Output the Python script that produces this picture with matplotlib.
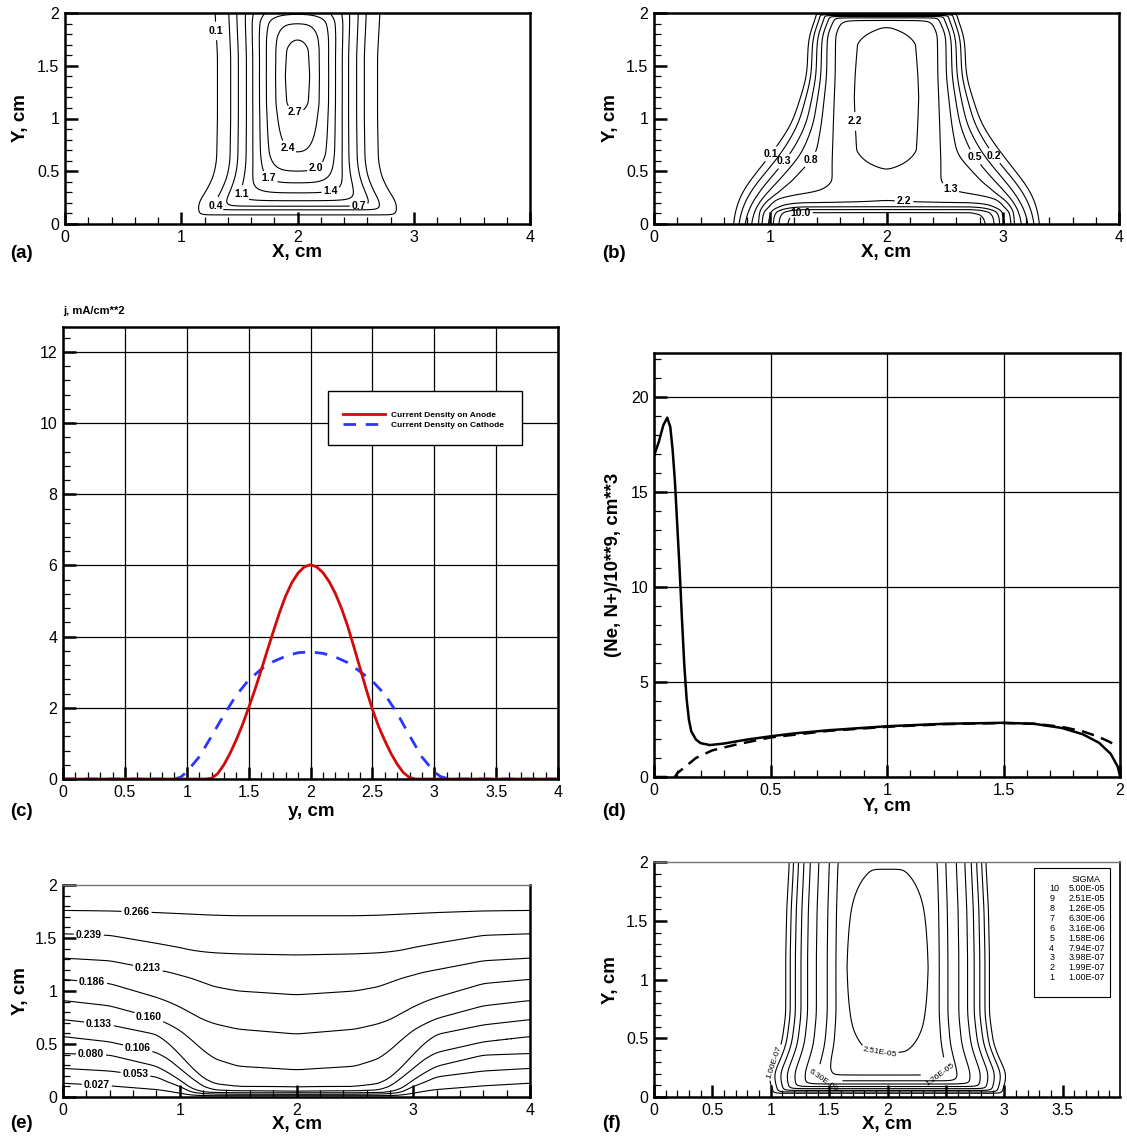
import numpy as np
import matplotlib
matplotlib.use("Agg")
import matplotlib.pyplot as plt
from matplotlib.ticker import MultipleLocator, FuncFormatter
from matplotlib.patches import Rectangle

plt.rcParams['font.family'] = ['Liberation Sans', 'DejaVu Sans']
plt.rcParams['axes.linewidth'] = 1.8

# ---------------------------------------------------------------- (a) electron density
a_levels = [0.1, 0.4, 0.7, 1.1, 1.4, 1.7, 2.0, 2.4, 2.7]
a_peak = 2.82
a_half_width = [0.675, 0.566, 0.503, 0.443, 0.385, 0.328, 0.265, 0.19, 0.12]   # cm from x = 2
a_zero_width = 0.76
a_core_width, a_core_level = 0.06, 2.79
a_base_height = 0.05
a_rise_height = [0.095, 0.136, 0.168, 0.215, 0.294, 0.389, 0.50, 0.673, 1.043]
a_crest_height = [1.15, 1.40, 1.65]
a_crest_level = [2.79, 2.82, 2.79]
a_fall_levels = [2.7, 2.4, 2.0, 1.95]
a_fall_height = [1.76, 1.905, 1.98, 2.0]
a_flare_y = [0.0, 0.1, 0.2, 0.3, 0.45, 0.6, 1.0, 1.6, 2.0]
a_flare = [1.18, 1.24, 1.25, 1.15, 1.05, 1.01, 1.0, 1.0, 1.03]

# ---------------------------------------------------------------- (b) ion density
b_levels = [0.1, 0.1668, 0.2783, 0.4642, 0.7743, 1.2915, 2.1544, 3.5938, 5.9948, 10.0]
b_col_peak = 2.5
b_lat_levels = [2.1544, 1.2915, 0.7743, 0.4642, 0.2783, 0.1668, 0.1, 0.0]
b_lat_rows = [0.0, 0.15, 0.25, 0.30, 0.40, 0.66, 0.94, 1.40, 1.80, 2.00]
b_lat_width = [
    [0.80, 1.04, 1.10, 1.16, 1.22, 1.27, 1.32, 1.40],
    [0.78, 1.02, 1.07, 1.13, 1.18, 1.24, 1.30, 1.38],
    [0.70, 0.97, 1.00, 1.06, 1.12, 1.19, 1.27, 1.35],
    [0.30, 0.55, 0.93, 1.02, 1.10, 1.18, 1.255, 1.33],
    [0.29, 0.46, 0.83, 0.93, 1.02, 1.10, 1.19, 1.27],
    [0.29, 0.46, 0.60, 0.73, 0.82, 0.90, 1.00, 1.08],
    [0.29, 0.455, 0.56, 0.625, 0.68, 0.75, 0.82, 0.89],
    [0.29, 0.443, 0.514, 0.558, 0.595, 0.638, 0.681, 0.75],
    [0.28, 0.44, 0.51, 0.55, 0.59, 0.63, 0.67, 0.74],
    [0.20, 0.36, 0.42, 0.46, 0.50, 0.54, 0.58, 0.65],
]
b_col_y = [0.0, 0.30, 0.515, 0.70, 1.20, 1.70, 1.87, 1.93, 1.955, 1.965, 1.975, 1.982, 1.99, 2.0]
b_col_v = [1.90, 1.97, 2.1544, 2.42, 2.50, 2.42, 2.1544, 1.2915, 0.7743, 0.4642, 0.2783,
           0.1668, 0.1, 0.0]
b_sheath_y = [0.0, 0.05, 0.08, 0.11, 0.135, 0.16, 0.20, 0.30, 0.40]
b_sheath_v = [12.5, 11.5, 10.2, 8.1, 4.1, 1.7, 0.25, 0.05, 0.0]
b_sheath_dx = [0.0, 0.72, 0.80, 0.88, 0.95, 1.00, 1.10]
b_sheath_w = [1.0, 1.0, 0.85, 0.55, 0.25, 0.08, 0.0]

# ---------------------------------------------------------------- (c) current density
c_anode_y = [0.0, 1.15, 1.20, 1.25, 1.30, 1.35, 1.40, 1.45, 1.50, 1.55, 1.60, 1.65, 1.70,
             1.75, 1.80, 1.85, 1.90, 1.95, 2.00, 2.05, 2.10, 2.15, 2.20, 2.25, 2.30, 2.35,
             2.40, 2.45, 2.50, 2.55, 2.60, 2.65, 2.70, 2.75, 2.80, 2.85, 4.0]
c_anode_j = [0.0, 0.0, 0.02, 0.15, 0.40, 0.72, 1.10, 1.52, 2.00, 2.50, 3.04, 3.60, 4.15,
             4.68, 5.15, 5.52, 5.79, 5.96, 6.02, 5.96, 5.80, 5.55, 5.22, 4.80, 4.30, 3.72,
             3.12, 2.52, 1.96, 1.48, 1.08, 0.72, 0.42, 0.18, 0.04, 0.0, 0.0]
c_cathode_y = [0.0, 0.90, 0.95, 1.0, 1.1, 1.2, 1.3, 1.4, 1.5, 1.6, 1.7, 1.8, 1.9, 2.0, 2.1,
               2.2, 2.3, 2.4, 2.5, 2.6, 2.7, 2.8, 2.9, 3.0, 3.05, 3.1, 3.15, 4.0]
c_cathode_j = [0.0, 0.0, 0.05, 0.20, 0.62, 1.20, 1.80, 2.35, 2.78, 3.08, 3.30, 3.45, 3.55,
               3.57, 3.53, 3.43, 3.27, 3.02, 2.75, 2.38, 1.85, 1.22, 0.62, 0.20, 0.07, 0.02,
               0.0, 0.0]

# ---------------------------------------------------------------- (d) densities along Y
d_ne_y = [0.0, 0.02, 0.04, 0.057, 0.07, 0.08, 0.09, 0.10, 0.11, 0.12, 0.13, 0.14, 0.15,
          0.16, 0.18, 0.20, 0.24, 0.30, 0.40, 0.50, 0.60, 0.75, 1.00, 1.25, 1.50, 1.63,
          1.75, 1.84, 1.91, 1.96, 1.99, 2.0]
d_ne = [16.9, 17.6, 18.5, 18.9, 18.4, 17.2, 15.5, 13.2, 10.9, 8.3, 5.9, 4.1, 3.0,
        2.4, 1.97, 1.78, 1.68, 1.76, 1.97, 2.14, 2.29, 2.46, 2.67, 2.80, 2.85, 2.80,
        2.58, 2.25, 1.80, 1.22, 0.55, 0.05]
d_ni_y = [0.0, 0.09, 0.10, 0.14, 0.18, 0.25, 0.35, 0.50, 0.75, 1.00, 1.25, 1.50, 1.63,
          1.75, 1.84, 1.90, 1.95, 1.98]
d_ni = [0.0, 0.0, 0.2, 0.6, 1.0, 1.4, 1.7, 2.08, 2.43, 2.64, 2.78, 2.84, 2.80,
        2.64, 2.40, 2.15, 1.88, 1.68]

# ---------------------------------------------------------------- (e) potential
e_levels = [0.027, 0.053, 0.080, 0.106, 0.133, 0.160, 0.186, 0.213, 0.239, 0.266]
e_top = 0.29
e_x = [0.0, 0.4, 0.8, 0.9, 1.0, 1.1, 1.2, 1.3, 1.5, 2.0]
e_height = [
    [0.13, 0.105, 0.07, 0.055, 0.035, 0.018, 0.013, 0.012, 0.012, 0.012],
    [0.27, 0.245, 0.19, 0.14, 0.10, 0.045, 0.032, 0.028, 0.026, 0.025],
    [0.41, 0.395, 0.29, 0.23, 0.16, 0.08, 0.048, 0.042, 0.040, 0.040],
    [0.57, 0.52, 0.42, 0.36, 0.27, 0.18, 0.10, 0.066, 0.058, 0.055],
    [0.73, 0.68, 0.59, 0.51, 0.40, 0.28, 0.18, 0.125, 0.10, 0.095],
    [0.91, 0.86, 0.74, 0.69, 0.63, 0.54, 0.44, 0.36, 0.29, 0.256],
    [1.11, 1.07, 0.94, 0.90, 0.85, 0.79, 0.73, 0.69, 0.64, 0.594],
    [1.31, 1.285, 1.20, 1.18, 1.15, 1.12, 1.08, 1.04, 1.00, 0.964],
    [1.54, 1.525, 1.45, 1.43, 1.41, 1.385, 1.37, 1.36, 1.35, 1.34],
    [1.76, 1.755, 1.74, 1.735, 1.73, 1.725, 1.72, 1.715, 1.71, 1.71],
]

# ---------------------------------------------------------------- (f) conductivity
f_levels = [1.00e-7, 1.99e-7, 3.98e-7, 7.94e-7, 1.58e-6, 3.16e-6, 6.30e-6, 1.26e-5,
            2.51e-5, 5.00e-5]
f_peak = 3.3e-5
f_floor = 1.0e-8
f_core_width = 0.12
f_half_width = [0.88, 0.835, 0.79, 0.745, 0.69, 0.615, 0.51, 0.44, 0.38]
f_zero_width = 0.97
f_rise_height = [0.03, 0.042, 0.055, 0.07, 0.088, 0.11, 0.135, 0.18, 0.37]
f_crest_height = [1.10]
f_fall_levels = [2.51e-5, 2.0e-5]
f_fall_height = [1.95, 2.0]
f_flare_y = [0.0, 0.1, 0.2, 0.3, 0.45, 0.7, 1.2, 1.6, 2.0]
f_flare = [1.10, 1.15, 1.17, 1.11, 1.04, 1.0, 1.0, 0.99, 0.965]


# ================================================================ helpers
def soft_min(u, v, p=4.0):
    u = np.maximum(u, 1e-12)
    v = np.maximum(v, 1e-12)
    return (u ** -p + v ** -p) ** (-1.0 / p)


def raw_profile(values, peak, p=4.0):
    """Profile values that give `values` after soft_min with a profile at its peak."""
    R = peak * 2 ** (1.0 / p)
    c = np.asarray(values, float)
    out = np.zeros_like(c)
    m = c > 0
    out[m] = (np.minimum(c[m], peak) ** -p - R ** -p) ** (-1.0 / p)
    return out


def smooth1(v, s, axis=-1):
    if s <= 0:
        return v
    n = int(3 * s) + 1
    k = np.exp(-0.5 * (np.arange(-n, n + 1) / s) ** 2)
    k /= k.sum()
    pad = [(0, 0)] * v.ndim
    pad[axis] = (n, n)
    vp = np.pad(v, pad, mode='edge')
    return np.apply_along_axis(lambda r: np.convolve(r, k, mode='valid'), axis, vp)


gx = np.linspace(0, 4, 401)
gy = np.linspace(0, 2, 401)
gd = np.linspace(0, 4, 801)
GX, GY = np.meshgrid(gx, gy)


def profile(grid, nodes, values, s):
    return smooth1(np.interp(grid, nodes, values), s)


# field (a)
a_lat = profile(gd, np.r_[0.0, a_core_width, a_half_width[::-1], a_zero_width, 4.0],
                raw_profile(np.r_[a_peak, a_core_level, a_levels[::-1], 0.0, 0.0], a_peak), 5)
a_ver = profile(gy, np.r_[0.0, a_base_height, a_rise_height, a_crest_height, a_fall_height],
                raw_profile(np.r_[0.0, 0.0, a_levels, a_crest_level, a_fall_levels], a_peak), 3)
a_fl = profile(gy, a_flare_y, a_flare, 10)
Da = np.abs(GX - 2.0) / a_fl[:, None]
Za = soft_min(np.interp(Da, gd, a_lat), a_ver[:, None] + 0 * GX)
Za = smooth1(smooth1(Za, 2, axis=0), 3, axis=1)

# field (b)
Db = np.abs(GX - 2.0)
bw = np.asarray(b_lat_width)
bw_fine = np.array([np.interp(gy, b_lat_rows, bw[:, j]) for j in range(bw.shape[1])]).T
for j, s in enumerate([6, 6, 12, 16, 20, 20, 20, 20]):
    bw_fine[:, j] = smooth1(bw_fine[:, j], s)
b_raw_lat = raw_profile(b_lat_levels, b_col_peak)
b_R = b_col_peak * 2 ** 0.25
L = np.empty_like(GX)
for i in range(gy.size):
    L[i] = np.interp(Db[i], np.r_[0.0, bw_fine[i], 4.0], np.r_[b_R, b_raw_lat, 0.0])
L = smooth1(L, 3, axis=1)
Bc = profile(gy, b_col_y, raw_profile(b_col_v, b_col_peak), 1.5)
Sb = (profile(gy, b_sheath_y, b_sheath_v, 1.5)[:, None]
      * np.interp(Db, b_sheath_dx, b_sheath_w))
Zb = soft_min(L, Bc[:, None] + 0 * GX) + Sb

# field (e)
ex_half = np.minimum(gx, 4.0 - gx)
eh = np.array([np.interp(ex_half, e_x, row) for row in e_height])
eh = smooth1(eh, 3, axis=1)
Ze = np.empty_like(GX)
for j in range(gx.size):
    Ze[:, j] = np.interp(gy, np.r_[0.0, eh[:, j], 2.0], np.r_[0.0, e_levels, e_top])

# field (f), handled in log10 of sigma
fl = np.asarray(f_levels) / f_peak
fz = f_floor / f_peak
f_lat = profile(gd, np.r_[0.0, f_core_width, f_half_width[::-1], f_zero_width, 4.0],
                np.log10(raw_profile(np.r_[1.0, 1.0, fl[:9][::-1], fz, fz], 1.0)), 5)
f_ver = profile(gy, np.r_[0.0, f_rise_height, f_crest_height, f_fall_height],
                np.log10(raw_profile(np.r_[fz, fl[:9], 1.0,
                                           np.asarray(f_fall_levels) / f_peak], 1.0)), 2)
f_fl = profile(gy, f_flare_y, f_flare, 10)
Df = np.abs(GX - 2.0) / f_fl[:, None]
Zf = np.log10(f_peak * soft_min(10 ** np.interp(Df, gd, f_lat), 10 ** f_ver[:, None] + 0 * GX))
Zf = smooth1(smooth1(Zf, 1.5, axis=0), 3, axis=1)

# ================================================================ figure
W, H = 1127, 1136
fig = plt.figure(figsize=(W / 100, H / 100), dpi=100)


def box(l, t, r, b):
    return [l / W, 1 - b / H, (r - l) / W, (b - t) / H]


def ftext(x, y, s, **kw):
    kw.setdefault('ha', 'center')
    kw.setdefault('va', 'center')
    fig.text(x / W, 1 - y / H, s, **kw)


def style(ax, xlim, ylim, xmaj, xmin, ymaj, ymin):
    ax.set_xlim(*xlim)
    ax.set_ylim(*ylim)
    ax.xaxis.set_major_locator(MultipleLocator(xmaj))
    ax.xaxis.set_minor_locator(MultipleLocator(xmin))
    ax.yaxis.set_major_locator(MultipleLocator(ymaj))
    ax.yaxis.set_minor_locator(MultipleLocator(ymin))
    g = FuncFormatter(lambda v, p: f"{v:g}")
    ax.xaxis.set_major_formatter(g)
    ax.yaxis.set_major_formatter(g)
    ax.tick_params(which='both', direction='in', top=False, right=False, labelsize=11.5)
    ax.tick_params(which='major', length=9, width=1.8, pad=4)
    ax.tick_params(which='minor', length=5, width=0.9)


CL = dict(colors='black', linewidths=0.8, linestyles='solid')


def contour_map(ax, Z, levels, marks, fmt, size, upright=True, weight='bold'):
    """Draw each level on its own and label it at the given (level index, (x, y)) spots."""
    for k, lev in enumerate(levels):
        cs = ax.contour(gx, gy, Z, levels=[lev], **CL)
        spots = [pos for idx, pos in marks if idx == k]
        if not spots:
            continue
        txt = cs.clabel(fmt=fmt, fontsize=size, inline=True, inline_spacing=2,
                        manual=spots)
        for t in txt:
            if upright:
                t.set_rotation(0)
            t.set_fontweight(weight)


AX_LBL = dict(fontsize=13.5, fontweight='bold')

# ---- (a)
ax = fig.add_axes(box(65, 13, 530, 224))
contour_map(ax, Za, a_levels,
            [(0, (1.30, 1.83)), (8, (1.97, 1.04)), (7, (1.90, 0.70)), (6, (2.15, 0.55)),
             (5, (1.74, 0.41)), (4, (2.29, 0.29)), (3, (1.48, 0.27)), (1, (1.28, 0.17)),
             (2, (2.53, 0.15))], '%.1f', 7.5)
style(ax, (0, 4), (0, 2), 1, 0.2, 0.5, 0.1)
ftext(297, 253, 'X, cm', **AX_LBL)
ftext(20, 118, 'Y, cm', rotation=90, **AX_LBL)
ftext(10, 253, '(a)', ha='left', **AX_LBL)

# ---- (b)
ax = fig.add_axes(box(654, 13, 1119, 224))
contour_map(ax, Zb, b_levels,
            [(0, (1.00, 0.67)), (2, (1.16, 0.56)), (4, (1.36, 0.60)), (6, (1.69, 0.97)),
             (3, (2.69, 0.58)), (1, (2.88, 0.61)), (5, (2.55, 0.34)), (6, (2.15, 0.19)),
             (9, (1.26, 0.11))], '%.1f', 7.5)
style(ax, (0, 4), (0, 2), 1, 0.2, 0.5, 0.1)
ftext(886, 253, 'X, cm', **AX_LBL)
ftext(611, 118, 'Y, cm', rotation=90, **AX_LBL)
ftext(602, 253, '(b)', ha='left', **AX_LBL)

# ---- (c)
ax = fig.add_axes(box(63, 327, 558, 779))
style(ax, (0, 4), (0, 12.7), 0.5, 0.1, 2, 0.4)
ax.grid(True, which='major', color='black', linewidth=0.9)
ax.set_axisbelow(True)
lc, = ax.plot(c_cathode_y, c_cathode_j, color='#2b35ff', linewidth=2.0,
              linestyle=(0, (4.5, 3.5)), label='Current Density on Cathode', zorder=2)
la, = ax.plot(c_anode_y, c_anode_j, color='#d10a0a', linewidth=2.0,
              label='Current Density on Anode', zorder=2.1)
ax.add_patch(Rectangle((0.536, 0.739), 0.391, 0.12, transform=ax.transAxes,
                       facecolor='white', edgecolor='black', linewidth=1.0, zorder=4))
leg = ax.legend([la, lc], ['Current Density on Anode', 'Current Density on Cathode'],
                loc='center left', bbox_to_anchor=(0.566, 0.795), frameon=False,
                borderpad=0, borderaxespad=0, handlelength=5.0, handletextpad=0.75,
                labelspacing=0.25, prop=dict(size=6.0, weight='bold'))
leg.set_zorder(5)
ftext(311, 811, 'y, cm', **AX_LBL)
ftext(63, 311, 'j, mA/cm**2', ha='left', fontsize=8, fontweight='bold')
ftext(10, 812, '(c)', ha='left', **AX_LBL)

# ---- (d)
ax = fig.add_axes(box(654, 353, 1120, 777))
style(ax, (0, 2), (0, 22.3), 0.5, 0.1, 5, 1)
ax.grid(True, which='major', color='black', linewidth=0.9)
ax.set_axisbelow(True)
ax.plot(d_ni_y, d_ni, color='black', linewidth=1.8, linestyle=(0, (5, 3)))
ax.plot(d_ne_y, d_ne, color='black', linewidth=1.8)
ftext(887, 806, 'Y, cm', **AX_LBL)
ftext(613, 565, '(Ne, N+)/10**9, cm**3', rotation=90, **AX_LBL)
ftext(602, 812, '(d)', ha='left', **AX_LBL)

# ---- (e)
ax = fig.add_axes(box(63, 885, 530, 1097))
contour_map(ax, Ze, e_levels,
            [(0, (0.29, 0.12)), (1, (0.62, 0.21)), (2, (0.24, 0.40)), (3, (0.64, 0.46)),
             (4, (0.31, 0.71)), (5, (0.74, 0.77)), (6, (0.25, 1.10)), (7, (0.73, 1.235)),
             (8, (0.22, 1.53)), (9, (0.63, 1.75))], '%.3f', 7.5)
style(ax, (0, 4), (0, 2), 1, 0.2, 0.5, 0.1)
ax.spines['top'].set_color('0.45')
ax.spines['top'].set_linewidth(1.0)
ftext(297, 1124, 'X, cm', **AX_LBL)
ftext(20, 991, 'Y, cm', rotation=90, **AX_LBL)
ftext(10, 1123, '(e)', ha='left', **AX_LBL)

# ---- (f)
ax = fig.add_axes(box(654, 862, 1120, 1097))
contour_map(ax, Zf, np.log10(f_levels),
            [(0, (1.04, 0.29)), (6, (1.45, 0.14)), (8, (1.93, 0.37)), (7, (2.45, 0.18))],
            lambda lv: f"{10 ** lv:.2E}", 6, upright=False, weight='normal')
style(ax, (0, 3.99), (0, 2), 0.5, 0.1, 0.5, 0.1)
ax.spines['top'].set_color('0.45')
ax.spines['top'].set_linewidth(1.0)
ax.spines['right'].set_linewidth(1.2)
ax.add_patch(Rectangle((0.816, 0.4255), 0.162, 0.5505, transform=ax.transAxes,
                       facecolor='white', edgecolor='black', linewidth=0.8, zorder=4))
ax.text(0.927, 0.926, 'SIGMA', transform=ax.transAxes, ha='center', va='center',
        fontsize=6.5, zorder=5)
for i, v in enumerate(f_levels[::-1]):
    yy = 0.887 - i * 0.0422
    ax.text(0.848, yy, f"{len(f_levels) - i}", transform=ax.transAxes, ha='left',
            va='center', fontsize=6.5, zorder=5)
    ax.text(0.890, yy, f"{v:.2E}", transform=ax.transAxes, ha='left',
            va='center', fontsize=6.5, zorder=5)
ftext(887, 1124, 'X, cm', **AX_LBL)
ftext(611, 980, 'Y, cm', rotation=90, **AX_LBL)
ftext(602, 1123, '(f)', ha='left', **AX_LBL)

fig.savefig('out.png', dpi=100)
